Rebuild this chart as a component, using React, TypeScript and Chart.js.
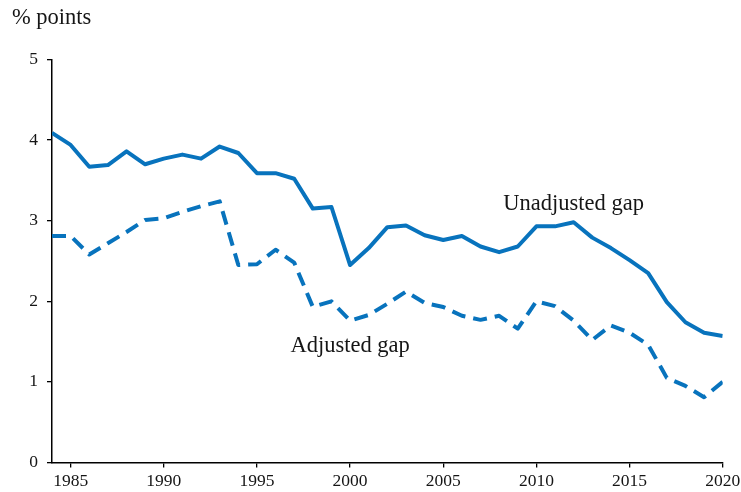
import React, { useEffect, useRef } from "react";
import { Chart, registerables } from "chart.js";

Chart.register(...registerables);

const years = [
  1984, 1985, 1986, 1987, 1988, 1989, 1990, 1991, 1992, 1993, 1994, 1995, 1996,
  1997, 1998, 1999, 2000, 2001, 2002, 2003, 2004, 2005, 2006, 2007, 2008, 2009,
  2010, 2011, 2012, 2013, 2014, 2015, 2016, 2017, 2018, 2019, 2020,
];

const unadjustedGap = [
  4.09, 3.94, 3.67, 3.69, 3.86, 3.7, 3.77, 3.82, 3.77, 3.92, 3.84, 3.59, 3.59,
  3.52, 3.15, 3.17, 2.45, 2.66, 2.92, 2.94, 2.82, 2.76, 2.81, 2.68, 2.61, 2.68,
  2.93, 2.93, 2.98, 2.79, 2.66, 2.51, 2.35, 1.99, 1.74, 1.61, 1.57,
];

const adjustedGap = [
  2.81, 2.81, 2.58, 2.72, 2.86, 3.01, 3.03, 3.11, 3.18, 3.24, 2.45, 2.46, 2.64,
  2.48, 1.93, 2.0, 1.76, 1.83, 1.97, 2.12, 1.98, 1.93, 1.82, 1.77, 1.82, 1.66,
  2.0, 1.94, 1.76, 1.52, 1.7, 1.61, 1.46, 1.05, 0.95, 0.81, 1.0,
];

const xTickValues = [1985, 1990, 1995, 2000, 2005, 2010, 2015, 2020];
const yTickValues = [0, 1, 2, 3, 4, 5];

const seriesLabels = ["Unadjusted gap", "Adjusted gap"];
// label anchor (centre, baseline) in data units
const labelX = [2012.0, 2000.0];
const labelY = [3.137, 1.376];

const yAxisTitle = "% points";

const BLUE = "#0873bd";
const FONT = "'Liberation Serif', 'DejaVu Serif', serif";
const TEXT = "#151515";

export default function App() {
  const ref = useRef<HTMLCanvasElement | null>(null);

  useEffect(() => {
    if (!ref.current) return;

    const textPlugin = {
      id: "textPlugin",
      afterDraw(chart: any) {
        const ctx = chart.ctx;
        const xs = chart.scales.x;
        const ys = chart.scales.y;
        ctx.save();
        ctx.fillStyle = TEXT;
        ctx.font = `22.5px ${FONT}`;
        ctx.textAlign = "center";
        ctx.textBaseline = "alphabetic";
        seriesLabels.forEach((t, i) => {
          ctx.fillText(t, xs.getPixelForValue(labelX[i]), ys.getPixelForValue(labelY[i]));
        });
        ctx.textAlign = "left";
        ctx.font = `22.5px ${FONT}`;
        ctx.fillText(yAxisTitle, 12, 24);
        ctx.restore();
      },
    };

    const chart = new Chart(ref.current, {
      type: "line",
      data: {
        datasets: [
          {
            label: seriesLabels[0],
            data: years.map((y, i) => ({ x: y, y: unadjustedGap[i] })),
            borderColor: BLUE,
            borderWidth: 4,
            pointRadius: 0,
            tension: 0,
            borderJoinStyle: "round",
          },
          {
            label: seriesLabels[1],
            data: years.map((y, i) => ({ x: y, y: adjustedGap[i] })),
            borderColor: BLUE,
            borderWidth: 4,
            borderDash: [14, 8],
            pointRadius: 0,
            tension: 0,
            borderJoinStyle: "round",
          },
        ],
      },
      options: {
        responsive: false,
        animation: false,
        layout: { padding: { top: 59.5, right: 18.3, left: 0, bottom: 0 } },
        plugins: {
          legend: { display: false },
          tooltip: { enabled: false },
          title: { display: false },
        },
        scales: {
          x: {
            type: "linear",
            min: 1984,
            max: 2020,
            afterBuildTicks: (axis: any) => {
              axis.ticks = xTickValues.map((v) => ({ value: v }));
            },
            afterFit: (axis: any) => {
              axis.height = 29.5;
              axis.paddingLeft = 0;
              axis.paddingRight = 0;
            },
            ticks: {
              color: TEXT,
              font: { family: FONT, size: 17.5 },
              padding: 3,
              maxRotation: 0,
              autoSkip: false,
              callback: (v: any) => String(v),
            },
            grid: {
              drawOnChartArea: false,
              drawTicks: true,
              tickLength: 5,
              color: "#000",
              lineWidth: 1.3,
            },
            border: { display: true, color: "#000", width: 1.5 },
          },
          y: {
            type: "linear",
            min: 0,
            max: 5,
            afterBuildTicks: (axis: any) => {
              axis.ticks = yTickValues.map((v) => ({ value: v }));
            },
            afterFit: (axis: any) => {
              axis.width = 52;
              axis.paddingTop = 0;
              axis.paddingBottom = 0;
            },
            ticks: {
              color: TEXT,
              font: { family: FONT, size: 17.5 },
              padding: 9,
              callback: (v: any) => String(v),
            },
            grid: {
              drawOnChartArea: false,
              drawTicks: true,
              tickLength: 5,
              color: "#000",
              lineWidth: 1.3,
            },
            border: { display: true, color: "#000", width: 1.5 },
          },
        },
      },
      plugins: [textPlugin],
    } as any);

    return () => chart.destroy();
  }, []);

  return (
    <div style={{ position: "absolute", left: 0, top: 0, width: 741, height: 492, background: "#fff" }}>
      <canvas ref={ref} width={741} height={492} style={{ display: "block", width: 741, height: 492 }} />
    </div>
  );
}
